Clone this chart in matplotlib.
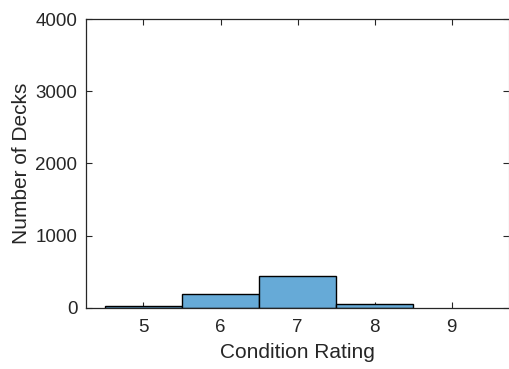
import matplotlib
matplotlib.use("Agg")
import matplotlib.pyplot as plt

ratings = [5, 6, 7, 8]
deck_counts = [18, 185, 433, 55]
x_ticks = [5, 6, 7, 8, 9]
y_ticks = [0, 1000, 2000, 3000, 4000]

plt.rcParams['font.family'] = ['Liberation Sans', 'DejaVu Sans']

fig = plt.figure(figsize=(5.10, 3.69), dpi=100)
ax = fig.add_axes([0.168, 0.166, 0.831, 0.7825])

face = (0.40, 0.668, 0.845)
ax.bar(ratings, deck_counts, width=1.0, color=face, edgecolor='black',
       linewidth=1.0, zorder=2)

ax.set_xlim(4.25, 9.75)
ax.set_ylim(0, 4000)
ax.set_xticks(x_ticks)
ax.set_yticks(y_ticks)

axis_col = '#262626'
for side, sp in ax.spines.items():
    sp.set_color(axis_col)
    sp.set_linewidth(0.9)
ax.spines['right'].set_color('#c8c8c8')

ax.tick_params(direction='in', length=4, width=0.8, color=axis_col,
               labelsize=13.5, labelcolor=axis_col, top=True, right=True,
               pad=6)
ax.tick_params(axis='x', pad=8)

ax.set_xlabel('Condition Rating', fontsize=15, color=axis_col, labelpad=5)
ax.set_ylabel('Number of Decks', fontsize=15, color=axis_col, labelpad=3)

fig.savefig('out.png', dpi=100)
